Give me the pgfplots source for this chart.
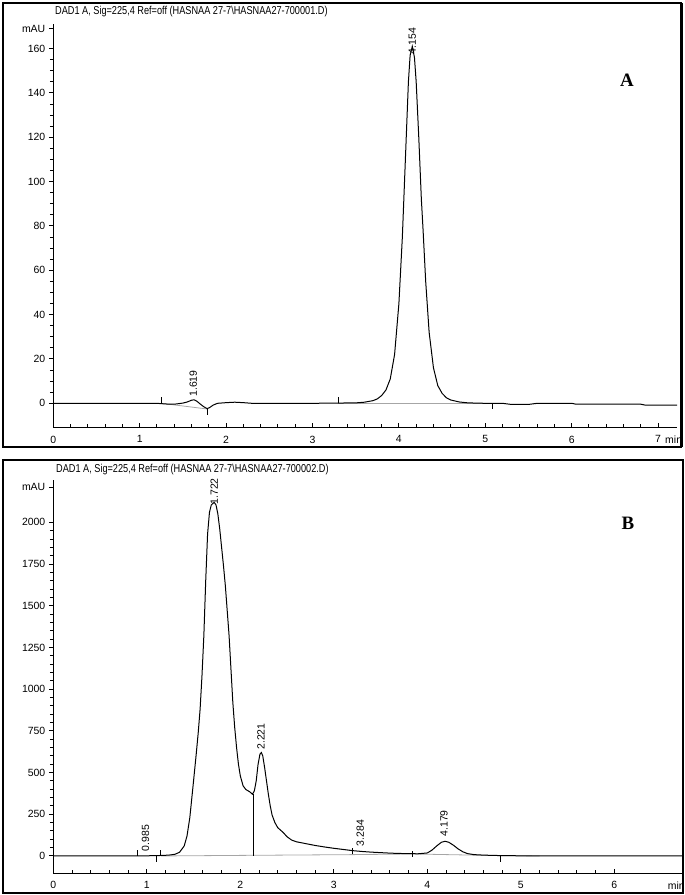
\documentclass[border=0pt]{standalone}
\usepackage{pgfplots}
\pgfplotsset{compat=1.18}
\usepackage{fontspec}
\setmainfont{Liberation Sans}
\newfontfamily\serifb{Liberation Serif}
\pgfplotsset{chem/.style={
  scale only axis,
  axis x line*=bottom, axis y line*=left,
  axis line style={-, line width=1.2bp, black},
  tick align=outside,
  major tick length=4.5bp, minor tick length=3.5bp,
  major x tick style={yshift=4.5bp}, minor x tick style={yshift=3.5bp},
  every tick/.style={black, line width=1bp},
  tick label style={font=\fontsize{10.5}{12}\selectfont},
  /pgf/number format/assume math mode=true,
  /pgf/number format/1000 sep={},
  scaled ticks=false,
  clip=false,
}}
\newcommand{\lbl}{\fontsize{10.5}{12}\selectfont}
\begin{document}
\begin{tikzpicture}
\useasboundingbox (0,0) rectangle (685bp,-895bp);
% frames
\draw[line width=1.6bp] (3bp,-3bp) rectangle (681bp,-447bp);
\draw[line width=3bp] (681bp,-3bp) -- (681bp,-447bp);
\draw[line width=1.6bp] (3bp,-460bp) rectangle (683bp,-893bp);
% titles
\node[anchor=west, inner sep=0pt] at (55bp,-11.7bp) {\fontsize{11.5}{13}\selectfont\scalebox{0.8}[1]{DAD1 A, Sig=225,4 Ref=off (HASNAA 27-7\textbackslash HASNAA27-700001.D)}};
\node[anchor=west, inner sep=0pt] at (56bp,-470bp) {\fontsize{11.5}{13}\selectfont\scalebox{0.8}[1]{DAD1 A, Sig=225,4 Ref=off (HASNAA 27-7\textbackslash HASNAA27-700002.D)}};
\node[font=\serifb\bfseries\fontsize{19}{20}\selectfont] at (627bp,-80bp) {A};
\node[font=\serifb\bfseries\fontsize{19}{20}\selectfont] at (628bp,-523bp) {B};

% ---------------- Panel A ----------------
\begin{axis}[chem,
  at={(53.3bp,-427.7bp)}, anchor=south west,
  width=623.8bp, height=403.5bp,
  xmin=0, xmax=7.22, ymin=-11, ymax=171,
  xtick={0,1,...,7}, minor x tick num=4,
  ytick={0,20,...,160}, minor y tick num=3,
  extra y ticks={169}, extra y tick labels={mAU},
]
% integration baselines
\addplot[gray!70, line width=0.8bp] coordinates {(1.25,0) (1.79,-2.6)};
\addplot[gray!70, line width=0.8bp] coordinates {(3.30,0) (5.08,0)};
% signal
\addplot[black, line width=1bp] coordinates {
(0.00,0) (0.50,0) (1.00,0) (1.20,0) (1.30,-0.3) (1.40,-0.4) (1.50,0.1)
(1.55,0.6) (1.60,1.4) (1.63,1.6) (1.66,1.0) (1.70,-0.3) (1.74,-1.5)
(1.78,-2.4) (1.81,-1.9) (1.85,-0.8) (1.90,0) (2.00,0.3) (2.10,0.5)
(2.20,0.3) (2.30,0) (3.00,0) (3.50,0.2) (3.60,0.5) (3.70,1.2)
(3.75,2.0) (3.80,3.5) (3.85,6) (3.90,11) (3.95,22) (4.00,45)
(4.04,75) (4.08,115) (4.11,145) (4.13,157) (4.155,161) (4.18,156)
(4.20,145) (4.23,120) (4.26,92) (4.28,78) (4.31,55) (4.35,32)
(4.40,16) (4.45,8) (4.50,4.5) (4.55,2.5) (4.60,1.5) (4.70,0.6)
(4.80,0.2) (5.00,0) (5.20,0) (5.30,-0.5) (5.50,-0.5) (5.60,0)
(6.00,0) (6.05,-0.4) (6.80,-0.4) (6.85,-0.8) (7.22,-0.8)};
% integration markers
\addplot[black, line width=1bp] coordinates {(1.25,0) (1.25,2.7)};
\addplot[black, line width=1bp] coordinates {(1.79,-2.4) (1.79,-5.1)};
\addplot[black, line width=1bp] coordinates {(3.30,0) (3.30,2.7)};
\addplot[black, line width=1bp] coordinates {(5.08,0) (5.08,-2.7)};
% peak labels
\node[rotate=90, anchor=west, inner sep=1pt, font=\lbl] at (axis cs:1.619,2.5) {1.619};
\node[rotate=90, anchor=west, inner sep=1pt, font=\lbl] at (axis cs:4.154,157) {4.154};
\node[anchor=west, inner sep=0pt, font=\lbl] at (axis cs:7.08,-11) [yshift=-12.5bp] {min};
\end{axis}

% ---------------- Panel B ----------------
\begin{axis}[chem,
  at={(53.3bp,-873.3bp)}, anchor=south west,
  width=629.3bp, height=393.3bp,
  xmin=0, xmax=6.73, ymin=-104, ymax=2254,
  xtick={0,1,...,6}, minor x tick num=4,
  ytick={0,250,...,2000}, minor y tick num=4,
  extra y ticks={2210}, extra y tick labels={mAU},
]
\addplot[gray!70, line width=0.8bp] coordinates {(1.15,0) (2.14,4) (3.20,8) (3.84,12) (4.78,2) (5.20,0)};
\addplot[black, line width=1bp] coordinates {
(0.00,0) (0.50,0) (0.90,0) (1.00,1) (1.10,2) (1.20,4) (1.25,6)
(1.30,10) (1.35,22) (1.40,60) (1.43,120) (1.46,230) (1.50,450)
(1.53,620) (1.55,740) (1.57,880) (1.59,1080) (1.61,1320) (1.63,1650)
(1.65,1930) (1.67,2060) (1.69,2105) (1.72,2120) (1.74,2105)
(1.76,2050) (1.78,1960) (1.80,1850) (1.82,1740) (1.84,1620)
(1.86,1470) (1.88,1320) (1.90,1120) (1.92,920) (1.94,770)
(1.96,650) (1.98,550) (2.00,480) (2.03,420) (2.06,398) (2.10,385)
(2.13,370) (2.15,390) (2.17,450) (2.19,550) (2.21,610) (2.225,620)
(2.24,600) (2.26,530) (2.28,450) (2.30,370) (2.32,300) (2.34,245)
(2.37,200) (2.40,170) (2.43,155) (2.46,140) (2.50,115) (2.55,95)
(2.60,85) (2.70,74) (2.80,63) (2.90,54) (3.00,46) (3.10,39)
(3.20,32) (3.30,27) (3.40,23) (3.50,20) (3.60,17) (3.70,15)
(3.80,14) (3.90,13) (4.00,18) (4.05,35) (4.10,60) (4.15,82)
(4.19,88) (4.23,82) (4.28,64) (4.33,42) (4.38,25) (4.43,14)
(4.50,8) (4.60,5) (4.80,2) (5.00,1) (5.50,0) (6.73,0)};
% drop line and integration markers
\addplot[black, line width=1bp] coordinates {(2.14,0) (2.14,372)};
\addplot[black, line width=1bp] coordinates {(0.90,0) (0.90,36)};
\addplot[black, line width=1bp] coordinates {(1.106,0) (1.106,-36)};
\addplot[black, line width=1bp] coordinates {(1.15,0) (1.15,36)};
\addplot[black, line width=1bp] coordinates {(3.20,14) (3.20,50)};
\addplot[black, line width=1bp] coordinates {(3.84,-6) (3.84,30)};
\addplot[black, line width=1bp] coordinates {(4.78,2) (4.78,-34)};
% peak labels
\node[rotate=90, anchor=west, inner sep=1pt, font=\lbl] at (axis cs:0.985,22) {0.985};
\node[rotate=90, anchor=west, inner sep=1pt, font=\lbl] at (axis cs:1.722,2100) {1.722};
\node[rotate=90, anchor=west, inner sep=1pt, font=\lbl] at (axis cs:2.221,630) {2.221};
\node[rotate=90, anchor=west, inner sep=1pt, font=\lbl] at (axis cs:3.284,52) {3.284};
\node[rotate=90, anchor=west, inner sep=1pt, font=\lbl] at (axis cs:4.179,110) {4.179};
\node[anchor=west, inner sep=0pt, font=\lbl] at (axis cs:6.57,-104) [yshift=-12.5bp] {min};
\end{axis}
\end{tikzpicture}
\end{document}
